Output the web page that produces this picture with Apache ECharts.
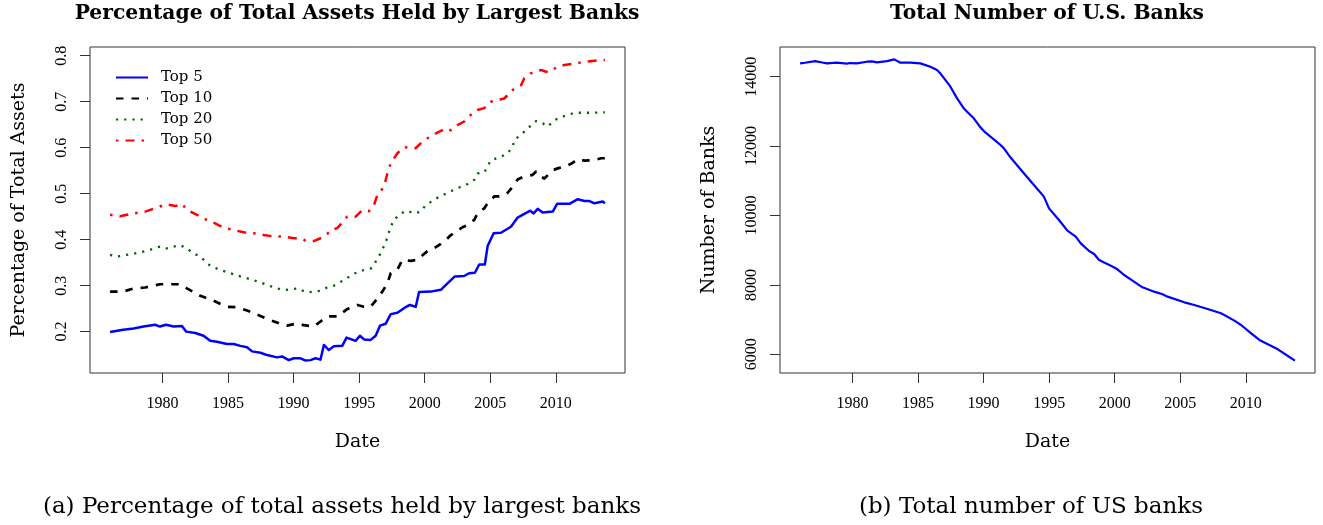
<!DOCTYPE html>
<html><head><meta charset="utf-8">
<script src="https://cdn.jsdelivr.net/npm/echarts@6/dist/echarts.min.js"></script>
<style>html,body{margin:0;padding:0;background:#fff}#c{width:1323px;height:525px}</style>
</head><body><div id="c"></div>
<script>
// ---- data ----
const seriesNames = ['Top 5', 'Top 10', 'Top 20', 'Top 50'];

const top5Years = [1976.0,1977.0,1977.8,1978.55,1979.44,1979.8,1980.28,1980.84,1981.48,1981.81,1982.5,1983.13,1983.64,1984.15,1984.92,1985.43,1985.94,1986.45,1986.83,1987.47,1987.98,1988.74,1989.12,1989.63,1990.02,1990.53,1990.91,1991.29,1991.67,1992.05,1992.31,1992.69,1993.07,1993.71,1994.04,1994.73,1995.06,1995.37,1995.88,1996.26,1996.59,1997.02,1997.41,1997.92,1998.42,1998.86,1999.32,1999.57,2000.46,2001.23,2001.74,2002.3,2003.01,2003.39,2003.83,2004.16,2004.59,2004.8,2005.26,2005.82,2006.58,2007.09,2007.6,2008.06,2008.31,2008.62,2009.0,2009.77,2010.1,2011.04,2011.68,2012.19,2012.57,2012.95,2013.59,2013.75];
const top5Vals = [0.199,0.204,0.207,0.211,0.215,0.211,0.215,0.211,0.212,0.200,0.197,0.191,0.180,0.178,0.173,0.173,0.169,0.166,0.157,0.154,0.149,0.144,0.146,0.138,0.142,0.142,0.137,0.138,0.142,0.139,0.171,0.160,0.168,0.169,0.187,0.180,0.191,0.183,0.182,0.191,0.213,0.217,0.238,0.241,0.251,0.258,0.254,0.286,0.287,0.291,0.305,0.320,0.321,0.327,0.328,0.346,0.346,0.386,0.414,0.415,0.428,0.448,0.456,0.463,0.457,0.467,0.459,0.461,0.478,0.478,0.488,0.484,0.484,0.479,0.483,0.479];

const top10Years = [1976.0,1977.0,1977.8,1978.67,1979.8,1980.84,1981.35,1981.86,1982.88,1983.9,1984.92,1985.68,1986.45,1987.47,1988.23,1989.0,1989.5,1990.27,1990.78,1991.54,1992.05,1992.56,1993.33,1994.09,1994.86,1995.37,1995.88,1996.39,1996.77,1997.15,1997.41,1997.92,1998.3,1998.94,1999.45,1999.7,2000.21,2000.6,2001.23,2001.61,2002.0,2002.38,2002.89,2003.27,2003.78,2004.03,2004.54,2004.8,2005.31,2005.69,2006.33,2006.71,2007.09,2007.47,2008.24,2008.5,2008.88,2009.13,2009.77,2010.15,2010.66,2011.17,2011.68,2012.19,2012.95,2013.46,2013.75];
const top10Vals = [0.287,0.287,0.294,0.296,0.303,0.303,0.303,0.294,0.278,0.267,0.254,0.253,0.246,0.234,0.225,0.217,0.213,0.218,0.214,0.211,0.222,0.233,0.233,0.249,0.258,0.254,0.254,0.272,0.287,0.305,0.327,0.335,0.356,0.354,0.356,0.363,0.375,0.379,0.391,0.399,0.410,0.417,0.427,0.432,0.443,0.457,0.468,0.479,0.494,0.494,0.502,0.515,0.531,0.536,0.541,0.548,0.537,0.533,0.551,0.555,0.559,0.565,0.575,0.572,0.573,0.577,0.577];

const top20Years = [1976.0,1976.51,1977.27,1978.29,1979.06,1979.8,1980.3,1980.84,1981.35,1981.86,1982.37,1982.88,1983.64,1984.41,1985.17,1985.94,1986.7,1987.47,1988.23,1989.0,1989.5,1990.27,1991.03,1991.54,1992.05,1992.56,1993.07,1993.84,1994.6,1995.37,1995.88,1996.13,1996.4,1996.64,1997.02,1997.41,1997.66,1998.17,1998.68,1999.19,1999.7,2000.08,2000.97,2001.74,2002.5,2003.27,2003.78,2004.03,2004.54,2005.05,2005.82,2006.33,2006.71,2006.84,2007.35,2007.86,2008.5,2009.0,2009.39,2009.9,2010.66,2011.43,2012.19,2012.95,2013.75];
const top20Vals = [0.367,0.363,0.367,0.372,0.378,0.385,0.381,0.385,0.388,0.381,0.370,0.363,0.343,0.334,0.327,0.320,0.314,0.307,0.299,0.292,0.291,0.294,0.285,0.287,0.289,0.296,0.300,0.312,0.326,0.334,0.337,0.345,0.360,0.370,0.394,0.428,0.443,0.457,0.463,0.457,0.461,0.475,0.491,0.502,0.512,0.521,0.530,0.544,0.546,0.573,0.580,0.588,0.602,0.617,0.628,0.642,0.658,0.653,0.646,0.660,0.669,0.676,0.676,0.676,0.677];

const top50Years = [1976.0,1976.76,1977.8,1978.67,1979.8,1980.3,1980.97,1981.48,1981.86,1982.63,1983.13,1983.9,1984.66,1985.43,1986.19,1986.96,1987.72,1988.49,1989.25,1990.02,1990.53,1990.91,1991.54,1992.05,1992.56,1992.82,1993.33,1994.09,1994.73,1995.24,1995.75,1996.13,1996.39,1996.9,1997.15,1997.41,1997.92,1998.42,1999.32,1999.96,2000.46,2000.97,2001.61,2002.0,2002.5,2003.01,2003.27,2004.03,2004.54,2005.05,2005.56,2006.07,2006.84,2007.35,2007.6,2008.11,2008.88,2009.39,2010.15,2010.66,2011.43,2012.19,2012.95,2013.75];
const top50Vals = [0.454,0.451,0.457,0.461,0.472,0.477,0.473,0.478,0.465,0.454,0.446,0.437,0.426,0.421,0.416,0.414,0.410,0.407,0.407,0.403,0.403,0.398,0.397,0.403,0.412,0.421,0.425,0.450,0.450,0.464,0.462,0.475,0.497,0.515,0.544,0.566,0.588,0.601,0.599,0.617,0.624,0.633,0.642,0.638,0.649,0.657,0.666,0.682,0.686,0.700,0.704,0.707,0.729,0.736,0.751,0.762,0.769,0.764,0.776,0.780,0.783,0.787,0.789,0.791];

const bankYears = [1976.0,1976.38,1977.15,1977.79,1978.04,1978.8,1979.57,1979.82,1980.33,1981.1,1981.48,1981.86,1982.63,1983.19,1983.65,1984.41,1985.18,1985.94,1986.45,1986.7,1987.47,1987.98,1988.49,1988.74,1989.25,1989.76,1990.15,1990.78,1991.29,1991.55,1992.06,1992.57,1993.33,1993.84,1994.6,1994.99,1995.75,1996.39,1997.03,1997.41,1998.05,1998.43,1998.81,1999.7,2000.21,2000.72,2001.36,2002.12,2003.01,2003.65,2004.03,2005.31,2006.07,2007.09,2008.11,2009.13,2009.64,2010.41,2011.04,2011.68,2012.45,2013.21,2013.75];
const bankVals = [14384,14403,14451,14403,14384,14403,14375,14394,14384,14432,14442,14413,14451,14499,14403,14403,14384,14288,14192,14096,13712,13376,13088,12992,12800,12540,12387,12195,12031,11935,11670,11440,11100,10879,10543,10206,9870,9563,9390,9198,8977,8891,8718,8555,8449,8286,8123,7931,7805,7729,7661,7498,7421,7306,7181,6970,6845,6605,6413,6288,6144,5952,5818];

const xTicks = [1980, 1985, 1990, 1995, 2000, 2005, 2010];
const yTicksLeft = [0.2, 0.3, 0.4, 0.5, 0.6, 0.7, 0.8];
const yTicksRight = [6000, 8000, 10000, 12000, 14000];

// ---- chart ----
const pairs = (xs, ys) => xs.map((x, i) => [x, ys[i]]);
const SERIF = 'DejaVu Serif';
const NUMF = 'Liberation Serif';
const BOX = '#333';

function xAxis(idx) {
  return {
    type: 'value', gridIndex: idx, min: 1974.47, max: 2015.28,
    axisLine: { show: false },
    axisTick: { show: true, inside: false, length: 10, customValues: xTicks, lineStyle: { color: BOX, width: 1 } },
    axisLabel: { customValues: xTicks, margin: 23, fontFamily: NUMF, fontSize: 16, color: '#000', formatter: v => String(v) },
    splitLine: { show: false },
    name: 'Date', nameLocation: 'middle', nameGap: 60,
    nameTextStyle: { fontFamily: SERIF, fontSize: 19, color: '#000' }
  };
}
function yAxis(idx, min, max, ticks, name) {
  return {
    type: 'value', gridIndex: idx, min: min, max: max,
    axisLine: { show: false },
    axisTick: { show: true, inside: false, length: 10, customValues: ticks, lineStyle: { color: BOX, width: 1 } },
    axisLabel: { customValues: ticks, rotate: 90, margin: 20, fontFamily: NUMF, fontSize: 16, color: '#000', formatter: v => String(v) },
    splitLine: { show: false },
    name: name, nameLocation: 'middle', nameRotate: 90, nameGap: 61,
    nameTextStyle: { fontFamily: SERIF, fontSize: 19, color: '#000' }
  };
}
function line(name, data, color, type, w, gi) {
  return {
    name: name, type: 'line', xAxisIndex: gi, yAxisIndex: gi, data: data,
    symbol: 'none', showSymbol: false, smooth: false, animation: false,
    lineStyle: { color: color, width: w, type: type, cap: 'butt', join: 'round' },
    itemStyle: { color: color }
  };
}

const chart = echarts.init(document.getElementById('c'), null, { renderer: 'canvas' });
chart.setOption({
  animation: false,
  backgroundColor: '#fff',
  title: [
    { text: 'Percentage of Total Assets Held by Largest Banks', left: 357, top: 4, textAlign: 'center', padding: 0,
      textStyle: { fontFamily: SERIF, fontWeight: 'bold', fontSize: 20.3, color: '#000' } },
    { text: 'Total Number of U.S. Banks', left: 1047, top: 4, textAlign: 'center', padding: 0,
      textStyle: { fontFamily: SERIF, fontWeight: 'bold', fontSize: 20.3, color: '#000' } }
  ],
  legend: {
    data: seriesNames, orient: 'vertical', left: 115, top: 70, padding: 0,
    itemWidth: 32, itemHeight: 14, itemGap: 6,
    itemStyle: { color: 'rgba(0,0,0,0)', borderWidth: 0, opacity: 0 },
    textStyle: { fontFamily: SERIF, fontSize: 15, color: '#000', padding: [0, 0, 0, 8] }
  },
  grid: [
    { left: 90, right: 698, top: 47, bottom: 152, show: true, borderColor: BOX, borderWidth: 1, backgroundColor: 'transparent' },
    { left: 780, right: 8, top: 47, bottom: 152, show: true, borderColor: BOX, borderWidth: 1, backgroundColor: 'transparent' }
  ],
  xAxis: [xAxis(0), xAxis(1)],
  yAxis: [
    yAxis(0, 0.110, 0.819, yTicksLeft, 'Percentage of Total Assets'),
    yAxis(1, 5461, 14856, yTicksRight, 'Number of Banks')
  ],
  series: [
    line(seriesNames[0], pairs(top5Years, top5Vals), '#0000ff', 'solid', 2.5, 0),
    line(seriesNames[1], pairs(top10Years, top10Vals), '#000000', [7.5, 8], 2.7, 0),
    line(seriesNames[2], pairs(top20Years, top20Vals), '#006400', [2.2, 6], 2.3, 0),
    line(seriesNames[3], pairs(top50Years, top50Vals), '#ff0000', [2.5, 7, 9, 7], 2.5, 0),
    line('Banks', pairs(bankYears, bankVals), '#0000ff', 'solid', 2.2, 1)
  ],
  graphic: [
    { type: 'text', x: 342, y: 507, style: { text: '(a) Percentage of total assets held by largest banks', fontFamily: SERIF, fontSize: 23, fill: '#000', align: 'center', verticalAlign: 'middle' } },
    { type: 'text', x: 1031, y: 507, style: { text: '(b) Total number of US banks', fontFamily: SERIF, fontSize: 23, fill: '#000', align: 'center', verticalAlign: 'middle' } }
  ]
});
</script>
</body></html>
